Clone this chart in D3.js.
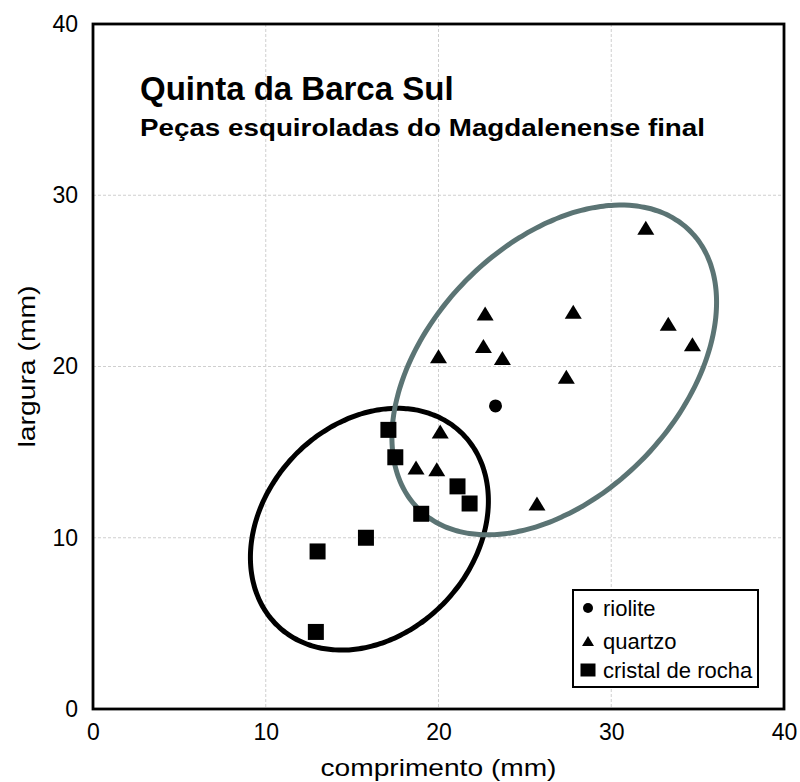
<!DOCTYPE html>
<html>
<head>
<meta charset="utf-8">
<script src="https://cdn.jsdelivr.net/npm/d3@7"></script>
<style>
  body { margin: 0; background: #fff; }
  text { font-family: "Liberation Sans", Arial, sans-serif; fill: #000; }
</style>
</head>
<body>
<svg id="chart" width="800" height="782"></svg>
<script>
// Axis ticks
const xTicks = [0, 10, 20, 30, 40];
const yTicks = [0, 10, 20, 30, 40];

// Pieces: [comprimento, largura] in mm
const riolite = [[23.3, 17.7]];
const quartzo = [
  [20.1, 16.2], [18.7, 14.1], [19.9, 14.0], [25.7, 12.0],
  [20.0, 20.6], [22.6, 21.2], [23.7, 20.5], [22.7, 23.1],
  [27.8, 23.2], [27.4, 19.4], [32.0, 28.1], [33.3, 22.5], [34.7, 21.3]
];
const cristal = [
  [17.1, 16.3], [17.5, 14.7], [21.1, 13.0], [21.8, 12.0],
  [19.0, 11.4], [15.8, 10.0], [13.0, 9.2], [12.9, 4.5]
];

// Group ellipses: centre, semi-axes (mm) and tilt (degrees)
const ellipseCristal = { cx: 16.0, cy: 10.5, rx: 7.75, ry: 6.1, angle: 48 };
const ellipseQuartzo = { cx: 26.7, cy: 19.8, rx: 11.3, ry: 7.3, angle: 46.7 };

const legendItems = ["riolite", "quartzo", "cristal de rocha"];

const svg = d3.select("#chart");
const plotL = 93, plotR = 784, plotT = 24, plotB = 709;

const x = d3.scaleLinear().domain([0, 40]).range([plotL, plotR]);
const y = d3.scaleLinear().domain([0, 40]).range([plotB, plotT]);

svg.append("rect").attr("width", 800).attr("height", 782).attr("fill", "#fff");

// Grid
const grid = svg.append("g");
grid.selectAll(".gx").data(xTicks.slice(1, -1)).join("line")
  .attr("x1", d => x(d)).attr("x2", d => x(d))
  .attr("y1", plotT).attr("y2", plotB)
  .attr("stroke", "#cfcfcf").attr("stroke-width", 1).attr("stroke-dasharray", "3,2");
grid.selectAll(".gy").data(yTicks.slice(1, -1)).join("line")
  .attr("y1", d => y(d)).attr("y2", d => y(d))
  .attr("x1", plotL).attr("x2", plotR)
  .attr("stroke", "#cfcfcf").attr("stroke-width", 1).attr("stroke-dasharray", "3,2");

// Axes
const xAxis = svg.append("g").attr("transform", `translate(0,${plotB})`)
  .call(d3.axisBottom(x).tickValues(xTicks).tickSize(0).tickPadding(15).tickFormat(d3.format("d")));
const yAxis = svg.append("g").attr("transform", `translate(${plotL},0)`)
  .call(d3.axisLeft(y).tickValues(yTicks).tickSize(0).tickPadding(15).tickFormat(d3.format("d")));
[xAxis, yAxis].forEach(a => {
  a.select(".domain").remove();
  a.selectAll("text").attr("font-size", 23)
    .attr("font-family", "'Liberation Sans', Arial, sans-serif").attr("fill", "#000");
});

// Ellipses
function ellipsePoints(e) {
  const phi = e.angle * Math.PI / 180;
  return d3.range(0, 360, 2).map(deg => {
    const t = deg * Math.PI / 180;
    return [
      e.cx + e.rx * Math.cos(t) * Math.cos(phi) - e.ry * Math.sin(t) * Math.sin(phi),
      e.cy + e.rx * Math.cos(t) * Math.sin(phi) + e.ry * Math.sin(t) * Math.cos(phi)
    ];
  });
}
const ellipseLine = d3.line().x(d => x(d[0])).y(d => y(d[1])).curve(d3.curveCardinalClosed);
svg.append("path").attr("d", ellipseLine(ellipsePoints(ellipseCristal)))
  .attr("fill", "none").attr("stroke", "#000").attr("stroke-width", 5);
svg.append("path").attr("d", ellipseLine(ellipsePoints(ellipseQuartzo)))
  .attr("fill", "none").attr("stroke", "#5b7474").attr("stroke-width", 5);

// Marker shapes
const triPath = (w, h) => `M0,${-h / 2}L${w / 2},${h / 2}L${-w / 2},${h / 2}Z`;
const sqPath = (w, h) => `M${-w / 2},${-h / 2}h${w}v${h}h${-w}Z`;

svg.append("g").selectAll("path").data(cristal).join("path")
  .attr("transform", d => `translate(${x(d[0])},${y(d[1])})`)
  .attr("d", sqPath(16, 16)).attr("fill", "#000");
svg.append("g").selectAll("path").data(quartzo).join("path")
  .attr("transform", d => `translate(${x(d[0])},${y(d[1])})`)
  .attr("d", triPath(17, 14)).attr("fill", "#000");
svg.append("g").selectAll("circle").data(riolite).join("circle")
  .attr("cx", d => x(d[0])).attr("cy", d => y(d[1])).attr("r", 6.5).attr("fill", "#000");

// Plot frame
svg.append("rect").attr("x", plotL).attr("y", plotT)
  .attr("width", plotR - plotL).attr("height", plotB - plotT)
  .attr("fill", "none").attr("stroke", "#000").attr("stroke-width", 2.8);

// Axis titles
svg.append("text").attr("x", (plotL + plotR) / 2).attr("y", 776)
  .attr("text-anchor", "middle").attr("font-size", 24)
  .attr("textLength", 236).attr("lengthAdjust", "spacingAndGlyphs")
  .text("comprimento (mm)");
svg.append("text").attr("transform", `translate(27,${(plotT + plotB) / 2}) rotate(-90)`)
  .attr("text-anchor", "middle").attr("dy", "0.35em").attr("font-size", 24)
  .attr("textLength", 162).attr("lengthAdjust", "spacingAndGlyphs")
  .text("largura (mm)");

// Chart title
svg.append("text").attr("x", 140).attr("y", 100)
  .attr("font-size", 33).attr("font-weight", "bold")
  .text("Quinta da Barca Sul");
svg.append("text").attr("x", 140).attr("y", 136)
  .attr("font-size", 24).attr("font-weight", "bold")
  .attr("textLength", 565).attr("lengthAdjust", "spacingAndGlyphs")
  .text("Peças esquiroladas do Magdalenense final");

// Legend
const lg = svg.append("g");
lg.append("rect").attr("x", 573).attr("y", 590).attr("width", 185).attr("height", 97)
  .attr("fill", "#fff").attr("stroke", "#000").attr("stroke-width", 2);
const rowY = [608, 641, 670];
const legendShapes = [
  g => g.append("circle").attr("r", 5).attr("fill", "#000"),
  g => g.append("path").attr("d", triPath(12, 10)).attr("fill", "#000"),
  g => g.append("path").attr("d", sqPath(15, 13)).attr("fill", "#000")
];
legendItems.forEach((name, i) => {
  const row = lg.append("g").attr("transform", `translate(588,${rowY[i]})`);
  legendShapes[i](row);
  row.append("text").attr("x", 15).attr("dy", "0.35em").attr("font-size", 22).text(name);
});
</script>
</body>
</html>
